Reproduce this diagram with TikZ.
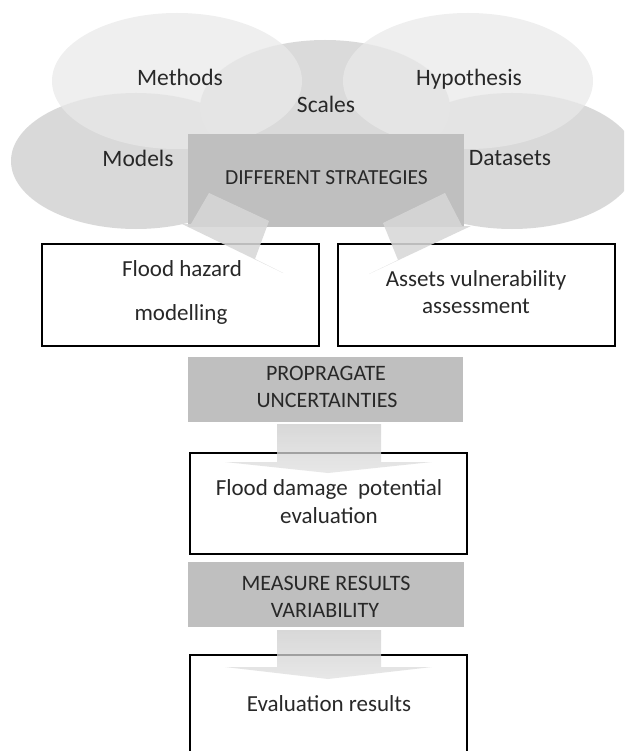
\documentclass[tikz,border=0pt]{standalone}
\usepackage{fontspec}
\setmainfont{Carlito}
\usetikzlibrary{shapes.geometric,calc}

\definecolor{ink}{HTML}{282828}
\definecolor{backfill}{HTML}{D9D9D9}
\definecolor{midfill}{HTML}{DADADA}
\definecolor{frontfill}{HTML}{E9E9E9}
\definecolor{boxgrey}{HTML}{BFBFBF}
\definecolor{calloutfill}{HTML}{D7D7D7}

\tikzset{
  bubble/.style={ellipse, minimum width=250pt, minimum height=136pt, inner sep=0pt, draw=none},
  bubbletext/.style={text=ink, font=\fontsize{23.5}{28}\selectfont, inner sep=0pt, anchor=base},
  bodytext/.style={text=ink, font=\fontsize{23}{28}\selectfont, inner sep=0pt, anchor=base},
  capstext/.style={text=ink, font=\fontsize{22}{27}\selectfont, inner sep=0pt, anchor=base},
  greybox/.style={rectangle, fill=boxgrey, draw=none, inner sep=0pt},
  whitebox/.style={rectangle, fill=white, draw=black, line width=2pt, inner sep=0pt},
  callout/.style={fill=calloutfill, fill opacity=0.875},
  downarrow/.style={top color=cA, bottom color=cB, opacity=0.75},
}
\definecolor{cA}{HTML}{CBCBCB}
\definecolor{cB}{HTML}{E0E0E0}

\begin{document}
\begin{tikzpicture}[x=1pt,y=-1pt]
\useasboundingbox (0,0) rectangle (624,751);
\clip (0,0) rectangle (624,751);

% overlapping ellipses: back row, centre, then translucent front row
\node[bubble, fill=backfill] (models) at (136,161) {};
\node[bubble, fill=backfill] (datasets) at (512,161) {};
\node[bubble, fill=midfill] (scales) at (325,108) {};
\node[bubble, fill=frontfill, fill opacity=0.75] (methods) at (177,81) {};
\node[bubble, fill=frontfill, fill opacity=0.75] (hypothesis) at (468,81) {};

% central strategy panel
\node[greybox, minimum width=276pt, minimum height=93pt] (strategies) at (326,180.5) {};

% first-level result boxes
\node[whitebox, minimum width=277pt, minimum height=102pt] (hazard) at (180.5,295) {};
\node[whitebox, minimum width=277pt, minimum height=102pt] (assets) at (476.5,295) {};

% callout arrows from the strategy panel to both boxes
\fill[callout] (209,193) -- (269,221) -- (255,259) -- (283,273) -- (182,224) -- (191,224) -- cycle;
\fill[callout] (445,193) -- (383,223) -- (398,260) -- (369,274) -- (471,226) -- (462,226) -- cycle;

% propagation step
\node[greybox, minimum width=275pt, minimum height=65pt] (propagate) at (325.5,389.5) {};
\node[whitebox, minimum width=277pt, minimum height=101pt] (damage) at (328.5,503.5) {};
\coordinate (arrowA) at (277,424);
\shade[downarrow] (arrowA) -- ++(104,0) -- ++(0,38) -- ++(51,0) -- ++(-104,11) -- ++(-103,-11) -- ++(52,0) -- cycle;

% variability step
\node[greybox, minimum width=276pt, minimum height=65pt] (measure) at (326,594.5) {};
\node[whitebox, minimum width=277pt, minimum height=110pt] (evaluation) at (328.5,710) {};
\coordinate (arrowB) at (277,630);
\shade[downarrow] (arrowB) -- ++(104,0) -- ++(0,37) -- ++(51,0) -- ++(-104,12) -- ++(-103,-12) -- ++(52,0) -- cycle;

% labels
\node[bubbletext] (tmethods) at (180,86) {Methods};
\node[bubbletext] (thypothesis) at (469,86) {Hypothesis};
\node[bubbletext] (tscales) at (326,113) {Scales};
\node[bubbletext] (tmodels) at (138,167) {Models};
\node[bubbletext] (tdatasets) at (510,166) {Datasets};
\node[capstext, font=\fontsize{21.5}{26}\selectfont] (tstrategies) at (326.5,185) {DIFFERENT STRATEGIES};

\node[bodytext] (thazardA) at (182,276.7) {Flood hazard};
\node[bodytext] (thazardB) at (181,320.7) {modelling};
\node[bodytext] (tassetsA) at (476,286) {Assets vulnerability};
\node[bodytext] (tassetsB) at (476,313.3) {assessment};

\node[capstext] (tpropA) at (326,380) {PROPRAGATE};
\node[capstext] (tpropB) at (327,407.7) {UNCERTAINTIES};
\node[bodytext] (tdamageA) at (329,495.7) {Flood damage~ potential};
\node[bodytext] (tdamageB) at (329,523.3) {evaluation};

\node[capstext] (tmeasureA) at (326,590) {MEASURE RESULTS};
\node[capstext] (tmeasureB) at (325,617.3) {VARIABILITY};
\node[bodytext] (tevaluation) at (329,711.7) {Evaluation results};
\end{tikzpicture}
\end{document}
